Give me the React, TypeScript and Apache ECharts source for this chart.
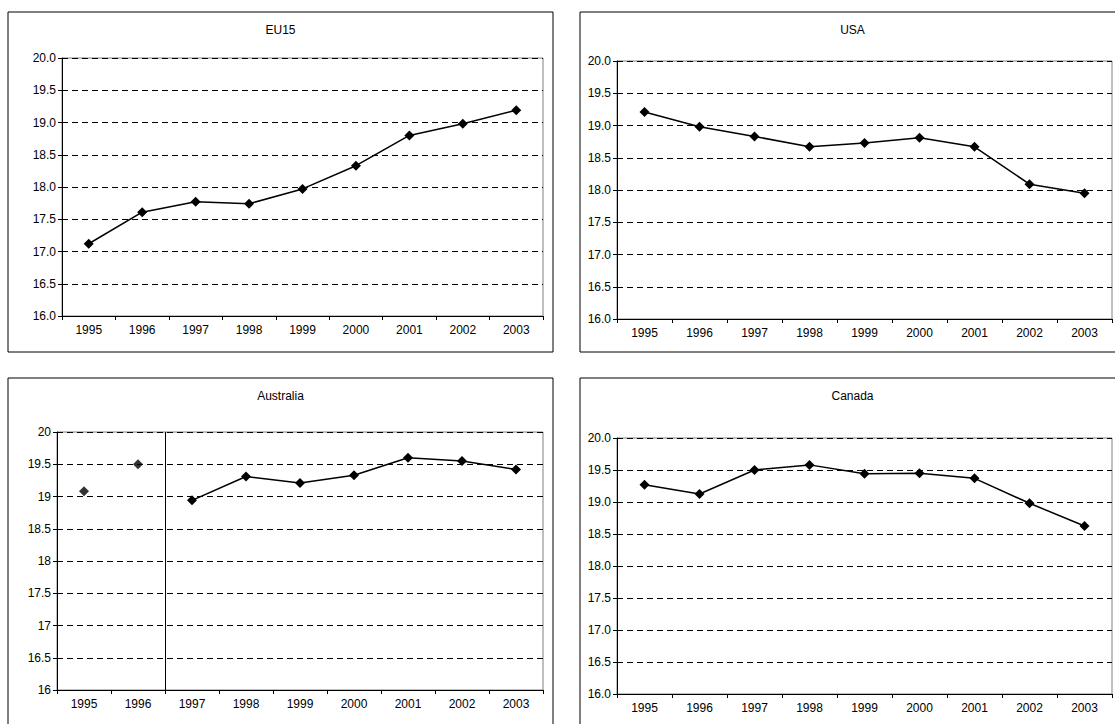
import React, { useEffect, useRef } from 'react';
import * as echarts from 'echarts';

const years = ['1995', '1996', '1997', '1998', '1999', '2000', '2001', '2002', '2003'];
const eu15 = [17.12, 17.61, 17.77, 17.74, 17.97, 18.33, 18.8, 18.98, 19.19];
const usa = [19.21, 18.98, 18.83, 18.67, 18.73, 18.81, 18.67, 18.09, 17.95];
const australiaEarly = [19.08, 19.5, null, null, null, null, null, null, null];
const australiaLate = [null, null, 18.94, 19.31, 19.21, 19.33, 19.6, 19.55, 19.42];
const canada = [19.27, 19.125, 19.5, 19.58, 19.44, 19.45, 19.37, 18.98, 18.625];

const FONT = 'Liberation Sans, Arial, sans-serif';

// panel boxes and plot areas in page pixels
const panels = [
  { title: 'EU15', box: [8, 12, 545, 340], plot: [62, 58, 543, 316], decimals: true },
  { title: 'USA', box: [580, 12, 545, 340], plot: [617, 61, 1112, 319], decimals: true },
  { title: 'Australia', box: [8, 378, 545, 360], plot: [57, 432, 543, 690], decimals: false },
  { title: 'Canada', box: [580, 378, 545, 360], plot: [617, 438, 1112, 694], decimals: true },
];

const App: React.FC = () => {
  const ref = useRef<HTMLDivElement>(null);

  useEffect(() => {
    if (!ref.current) return;
    const chart = echarts.init(ref.current, null, { renderer: 'svg' });

    const grid = panels.map(p => ({
      left: p.plot[0], top: p.plot[1], width: p.plot[2] - p.plot[0], height: p.plot[3] - p.plot[1],
      show: true, borderColor: '#808080', borderWidth: 1, backgroundColor: 'transparent',
    }));
    const xAxis = panels.map((_, i) => ({
      type: 'category', gridIndex: i, data: years, boundaryGap: true,
      axisLine: { lineStyle: { color: '#000' } },
      axisTick: { show: true, length: 4, lineStyle: { color: '#000' } },
      axisLabel: { color: '#000', fontFamily: FONT, fontSize: 12, margin: 8 },
    }));
    const yAxis = panels.map((p, i) => ({
      type: 'value', gridIndex: i, min: 16, max: 20, interval: 0.5,
      axisLine: { show: true, lineStyle: { color: '#000' } },
      axisTick: { show: true, length: 4, lineStyle: { color: '#000' } },
      axisLabel: {
        color: '#000', fontFamily: FONT, fontSize: 12, margin: 6,
        formatter: (v: number) => (p.decimals ? v.toFixed(1) : String(v)),
      },
      splitLine: { show: true, lineStyle: { color: '#000', type: [6, 4], width: 1 } },
    }));

    const marker = { symbol: 'diamond', symbolSize: 10, itemStyle: { color: '#000' } };
    const lineSeries = (data: (number | null)[], i: number) => ({
      type: 'line', xAxisIndex: i, yAxisIndex: i, data, ...marker,
      lineStyle: { color: '#000', width: 1.5 }, connectNulls: false,
    });

    const graphic: any[] = [];
    panels.forEach(p => {
      graphic.push({
        type: 'rect', shape: { x: p.box[0], y: p.box[1], width: p.box[2], height: p.box[3] },
        style: { fill: 'none', stroke: '#000', lineWidth: 1 }, z: 10,
      });
      graphic.push({
        type: 'text', x: p.box[0] + p.box[2] / 2, y: p.box[1] + 18,
        style: { text: p.title, font: `12px ${FONT}`, fill: '#000', align: 'center', verticalAlign: 'middle' },
      });
    });

    chart.setOption({
      animation: false,
      backgroundColor: '#fff',
      grid, xAxis, yAxis, graphic,
      series: [
        lineSeries(eu15, 0),
        lineSeries(usa, 1),
        { type: 'scatter', xAxisIndex: 2, yAxisIndex: 2, data: australiaEarly, ...marker },
        lineSeries(australiaLate, 2),
        lineSeries(canada, 3),
      ],
    });

    // vertical break line in the Australia panel, between 1996 and 1997
    const a = chart.convertToPixel({ xAxisIndex: 2 }, '1996') as number;
    const b = chart.convertToPixel({ xAxisIndex: 2 }, '1997') as number;
    const bx = Math.round((a + b) / 2) + 0.5;
    const top = chart.convertToPixel({ yAxisIndex: 2 }, 20) as number;
    const bottom = chart.convertToPixel({ yAxisIndex: 2 }, 16) as number;
    chart.setOption({
      graphic: [...graphic, {
        type: 'line', shape: { x1: bx, y1: top, x2: bx, y2: bottom },
        style: { stroke: '#000', lineWidth: 1 }, z: 5,
      }],
    });

    return () => chart.dispose();
  }, []);

  return <div ref={ref} style={{ position: 'fixed', left: 0, top: 0, width: 1115, height: 724 }} />;
};

export default App;
